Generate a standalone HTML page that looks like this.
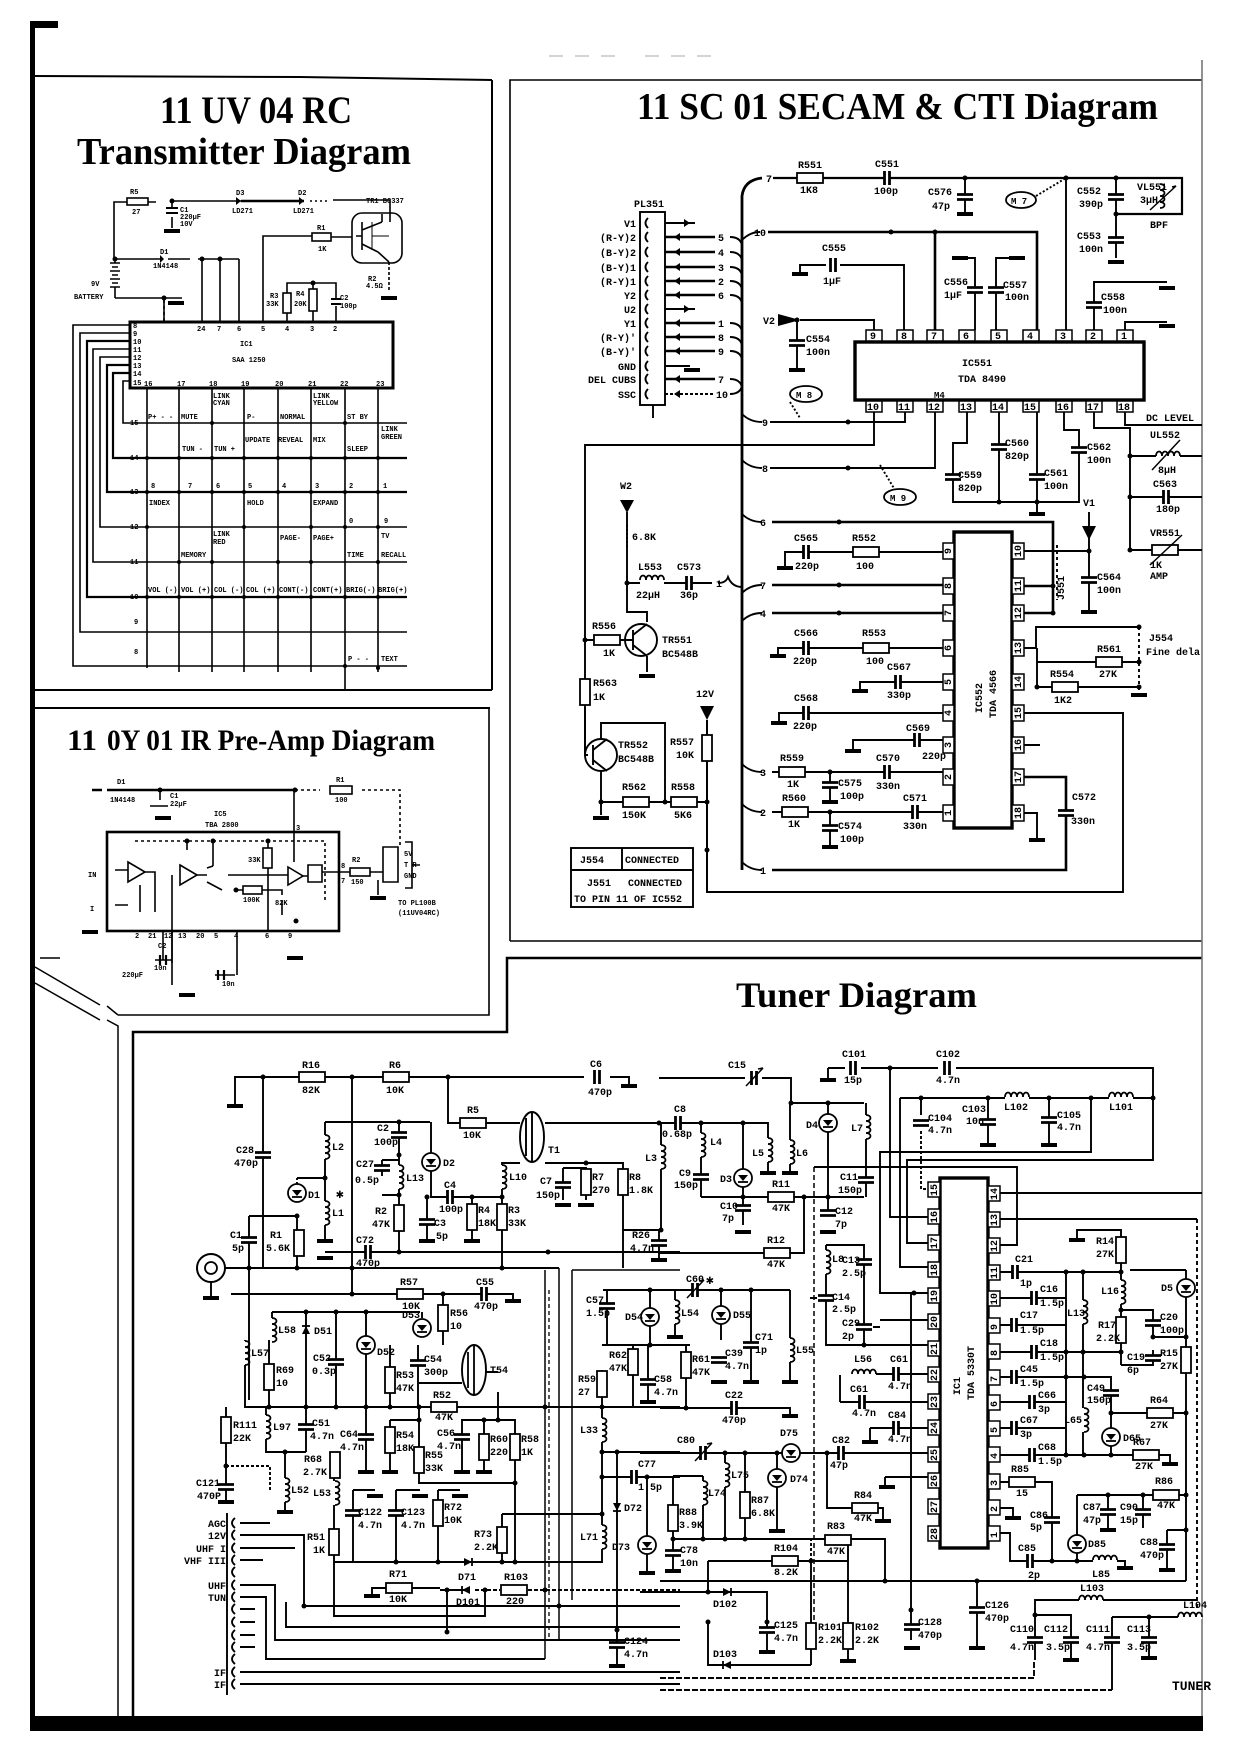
<!DOCTYPE html>
<html><head><meta charset="utf-8"><style>
html,body{margin:0;padding:0;background:#fff}
svg{display:block}
.l{font-family:"Liberation Mono","DejaVu Sans Mono",monospace;font-size:10px;font-weight:bold;fill:#000}
.s{font-family:"Liberation Mono","DejaVu Sans Mono",monospace;font-size:7px;font-weight:bold;fill:#000}
.h{font-family:"Liberation Serif",serif;font-weight:bold;fill:#000}
</style></head><body>
<svg width="1240" height="1754" viewBox="0 0 1240 1754" xmlns="http://www.w3.org/2000/svg">
<defs>
<g id="rh"><rect x="-13" y="-5" width="26" height="10" fill="#fff" stroke="#000" stroke-width="1.8"/></g>
<g id="rv"><rect x="-5" y="-13" width="10" height="26" fill="#fff" stroke="#000" stroke-width="1.8"/></g>
<g id="ch"><rect x="-3" y="-8" width="6" height="16" fill="#fff"/><path d="M-2.5,-7V7M2.5,-7V7" stroke="#000" stroke-width="2.8"/></g>
<g id="cv"><rect x="-9" y="-3" width="18" height="6" fill="#fff"/><path d="M-8,-2.5H8M-8,2.5H8" stroke="#000" stroke-width="2.8"/></g>
<g id="gnd"><rect x="-8" y="-2" width="16" height="4" fill="#000"/></g>
<g id="dot"><circle r="2.5" fill="#000"/></g>
<g id="lv"><rect x="-2" y="-12" width="4" height="24" fill="#fff"/><path d="M0,-12c6,0 6,6 0,6c6,0 6,6 0,6c6,0 6,6 0,6c6,0 6,6 0,6" fill="none" stroke="#000" stroke-width="1.8"/></g>
<g id="lh"><rect x="-12" y="-2" width="24" height="4" fill="#fff"/><path d="M-12,0c0,-6 6,-6 6,0c0,-6 6,-6 6,0c0,-6 6,-6 6,0c0,-6 6,-6 6,0" fill="none" stroke="#000" stroke-width="1.8"/></g>
<g id="dio"><circle r="9" fill="#fff" stroke="#000" stroke-width="1.8"/><path d="M-5,-3H5L0,3Z" fill="#000"/><path d="M-5,4H5" stroke="#000" stroke-width="1.8"/></g>
<g id="dsm"><path d="M-4,-4V4L4,0Z" fill="#000"/><path d="M4,-4V4" stroke="#000" stroke-width="1.8"/></g>
<g id="vc"><rect x="-3" y="-8" width="6" height="16" fill="#fff"/><path d="M-2.5,-7V7M2.5,-7V7" stroke="#000" stroke-width="2.8"/><path d="M-8,8L9,-10M9,-10l-5,1" stroke="#000" stroke-width="1.5" fill="none"/></g>
</defs>
<rect width="1240" height="1754" fill="#fff"/>

<!-- ================= FRAMES ================= -->
<g stroke="#000" fill="none">
<rect x="30" y="21" width="28" height="7" fill="#000" stroke="none"/>
<rect x="30" y="21" width="5" height="1710" fill="#000" stroke="none"/>
<path d="M33,76 L300,77 L492,80" stroke-width="2"/>
<path d="M492,80 V690" stroke-width="2"/>
<path d="M35,690 H492" stroke-width="2"/>
<path d="M35,708 H490" stroke-width="2"/>
<path d="M489,708 V1015 H118" stroke-width="1.6"/>
<path d="M35,967 L100,1005 M107,1006 L118,1015" stroke-width="1.5"/>
<path d="M35,983 L100,1020 M107,1020 L118,1026 V1716" stroke-width="1.5"/>
<path d="M133,1716 V1032 H507 V958 H1202" stroke-width="2.5"/>
<path d="M510,941 V80 H1202" stroke-width="1.6"/>
<path d="M510,941 H1202" stroke-width="1.6"/>
<path d="M1202,60 V1731" stroke="#777" stroke-width="1.6"/>
<path d="M549,56h14m12,0h14m12,0h14m30,0h14m12,0h14m12,0h14" stroke="#bbb" stroke-width="1.3"/>
</g>
<rect x="30" y="1716" width="1173" height="15" fill="#000"/>

<!-- ================= TITLES ================= -->
<text class="h" x="160" y="123" font-size="39" textLength="192" lengthAdjust="spacingAndGlyphs">11 UV 04 RC</text>
<text class="h" x="77" y="164" font-size="38" textLength="334" lengthAdjust="spacingAndGlyphs">Transmitter Diagram</text>
<text class="h" x="637" y="119" font-size="38" textLength="521" lengthAdjust="spacingAndGlyphs">11 SC 01 SECAM &amp; CTI Diagram</text>
<text class="h" x="67" y="750" font-size="30" textLength="30" lengthAdjust="spacingAndGlyphs">11</text>
<text class="h" x="107" y="750" font-size="30" textLength="328" lengthAdjust="spacingAndGlyphs">0Y 01 IR Pre-Amp Diagram</text>
<text class="h" x="736" y="1007" font-size="36" textLength="241" lengthAdjust="spacingAndGlyphs">Tuner Diagram</text>

<!-- ================= TRANSMITTER ================= -->
<g stroke="#000" stroke-width="1.6" fill="none">
<path d="M114,258 V202 H127 M148,202 H156"/>
<path d="M172,201 H241"/>
<path d="M241,201 H304" stroke-width="2.6"/>
<path d="M310,201 H330" stroke-dasharray="2 3"/>
<path d="M333,200 H390 V222"/>
<path d="M172,201 V208 M172,217 V228"/>
<path d="M263,322 V236 H312 M331,237 H352"/>
<rect x="312" y="233" width="19" height="8" fill="#fff"/>
<rect x="127" y="198" width="21" height="7" fill="#fff"/>
<rect x="352" y="213" width="50" height="50" rx="10"/>
<path d="M362,222V250M356,236H362M362,230L382,222M362,244L378,252M382,222V214M378,252L389,262" />
<path d="M372,222V250M372,236H389" stroke-width="1"/>
<path d="M389,262 V292" stroke-dasharray="3 2"/>
<path d="M110,263H120M112,267H118M110,271H120M112,275H118M110,279H120M112,283H118M110,287H120" stroke-width="1.6"/>
<path d="M115,258V263M115,287V298"/>
<path d="M115,259 H160 M168,259 H190" />
<path d="M198,259 H239 M202,259 V322 M220,259 V322 M239,259 V322"/>
<path d="M115,298 H182 M164,298 V322" />
<path d="M164,300 V322" stroke-dasharray="3 3"/>
<path d="M287,322 V283 H336 V298 M336,306 V322 M313,283 V322"/>
<rect x="283" y="293" width="8" height="20" fill="#fff"/>
<rect x="309" y="289" width="8" height="22" fill="#fff"/>
<path d="M331,299H341M331,304H341" stroke-width="2"/>
<rect x="130" y="322" width="263" height="66" stroke-width="3"/>
<path d="M130,325H73V666H407"/>
<path d="M130,333H80V632H407"/>
<path d="M130,341H87V597H407" stroke-width="2.2"/>
<path d="M130,349H93V562H407"/>
<path d="M130,357H100V527H407"/>
<path d="M130,365H107V492H407" stroke-width="2.2"/>
<path d="M130,373H113V458H407" stroke-width="2.2"/>
<path d="M130,381H123V423H407"/>
<path d="M147,389V668 M179,389V672 M212,389V672 M244,389V672 M278,389V672 M311,389V672 M345,389V690 M378,389V672"/>
</g>
<path d="M164,259l-4,-4v8z" fill="#000"/>
<path d="M241,201l-5,-4v8z M304,201l-5,-4v8z" fill="#000"/>
<use href="#gnd" x="172" y="231"/>
<use href="#gnd" x="176" y="303"/>
<use href="#gnd" x="389" y="298"/>
<path d="M166,208H178M166,213H178" stroke="#000" stroke-width="2"/>
<g>
<use href="#dot" x="172" y="201"/><use href="#dot" x="164" y="298"/><use href="#dot" x="202" y="259"/><use href="#dot" x="220" y="259"/><use href="#dot" x="313" y="283"/><use href="#dot" x="115" y="259"/>
</g>
<g fill="#000">
<circle cx="147" cy="458" r="2"/><circle cx="179" cy="458" r="2"/><circle cx="212" cy="458" r="2"/><circle cx="244" cy="458" r="2"/><circle cx="278" cy="458" r="2"/><circle cx="311" cy="458" r="2"/><circle cx="345" cy="458" r="2"/><circle cx="378" cy="458" r="2"/>
<circle cx="147" cy="492" r="2"/><circle cx="179" cy="492" r="2"/><circle cx="212" cy="492" r="2"/><circle cx="244" cy="492" r="2"/><circle cx="278" cy="492" r="2"/><circle cx="311" cy="492" r="2"/><circle cx="345" cy="492" r="2"/><circle cx="378" cy="492" r="2"/>
<circle cx="147" cy="527" r="2"/><circle cx="244" cy="527" r="2"/><circle cx="311" cy="527" r="2"/><circle cx="345" cy="527" r="2"/><circle cx="378" cy="527" r="2"/>
<circle cx="179" cy="562" r="2"/><circle cx="212" cy="562" r="2"/><circle cx="278" cy="562" r="2"/><circle cx="311" cy="562" r="2"/><circle cx="378" cy="562" r="2"/>
<circle cx="147" cy="597" r="2"/><circle cx="179" cy="597" r="2"/><circle cx="212" cy="597" r="2"/><circle cx="244" cy="597" r="2"/><circle cx="278" cy="597" r="2"/><circle cx="311" cy="597" r="2"/><circle cx="345" cy="597" r="2"/><circle cx="378" cy="597" r="2"/>
<circle cx="212" cy="423" r="2"/><circle cx="345" cy="423" r="2"/><circle cx="345" cy="666" r="2"/><circle cx="378" cy="668" r="2"/>
</g>
<g class="s">
<text x="130" y="194">R5</text><text x="132" y="214">27</text>
<text x="236" y="195">D3</text><text x="232" y="213">LD271</text>
<text x="298" y="195">D2</text><text x="293" y="213">LD271</text>
<text x="366" y="203">TR1 BC337</text>
<text x="180" y="212">C1</text><text x="180" y="219">220µF</text><text x="180" y="226">10V</text>
<text x="317" y="230">R1</text><text x="318" y="251">1K</text>
<text x="160" y="254">D1</text><text x="153" y="268">1N4148</text>
<text x="91" y="286">9V</text><text x="74" y="299">BATTERY</text>
<text x="368" y="281">R2</text><text x="366" y="288">4.5Ω</text>
<text x="270" y="298">R3</text><text x="266" y="306">33K</text>
<text x="296" y="296">R4</text><text x="294" y="306">20K</text>
<text x="340" y="300">C2</text><text x="340" y="308">100p</text>
<text x="197" y="331">24</text><text x="217" y="331">7</text><text x="237" y="331">6</text><text x="261" y="331">5</text><text x="285" y="331">4</text><text x="310" y="331">3</text><text x="333" y="331">2</text>
<text x="133" y="328">8</text><text x="133" y="336">9</text><text x="133" y="344">10</text><text x="133" y="352">11</text><text x="133" y="360">12</text><text x="133" y="368">13</text><text x="133" y="376">14</text><text x="133" y="385">15</text>
<text x="144" y="386">16</text><text x="177" y="386">17</text><text x="209" y="386">18</text><text x="241" y="386">19</text><text x="275" y="386">20</text><text x="308" y="386">21</text><text x="340" y="386">22</text><text x="376" y="386">23</text>
<text x="130" y="425">15</text><text x="130" y="460">14</text><text x="130" y="494">13</text><text x="130" y="529">12</text><text x="130" y="564">11</text><text x="130" y="599">10</text><text x="134" y="624">9</text><text x="134" y="654">8</text>
<text x="213" y="398">LINK</text><text x="213" y="405">CYAN</text><text x="313" y="398">LINK</text><text x="313" y="405">YELLOW</text>
<text x="148" y="419">P+ - -</text><text x="181" y="419">MUTE</text><text x="247" y="419">P-</text><text x="280" y="419">NORMAL</text><text x="347" y="419">ST BY</text>
<text x="381" y="431">LINK</text><text x="381" y="439">GREEN</text>
<text x="245" y="442">UPDATE</text><text x="278" y="442">REVEAL</text><text x="313" y="442">MIX</text>
<text x="182" y="451">TUN -</text><text x="214" y="451">TUN +</text><text x="347" y="451">SLEEP</text>
<text x="151" y="488">8</text><text x="188" y="488">7</text><text x="216" y="488">6</text><text x="248" y="488">5</text><text x="282" y="488">4</text><text x="315" y="488">3</text><text x="349" y="488">2</text><text x="383" y="488">1</text>
<text x="149" y="505">INDEX</text><text x="247" y="505">HOLD</text><text x="313" y="505">EXPAND</text>
<text x="349" y="523">0</text><text x="384" y="523">9</text>
<text x="213" y="536">LINK</text><text x="213" y="544">RED</text><text x="280" y="540">PAGE-</text><text x="313" y="540">PAGE+</text><text x="381" y="538">TV</text>
<text x="181" y="557">MEMORY</text><text x="347" y="557">TIME</text><text x="381" y="557">RECALL</text>
<text x="148" y="592">VOL (-)</text><text x="181" y="592">VOL (+)</text><text x="214" y="592">COL (-)</text><text x="246" y="592">COL (+)</text><text x="279" y="592">CONT(-)</text><text x="313" y="592">CONT(+)</text><text x="346" y="592">BRIG(-)</text><text x="378" y="592">BRIG(+)</text>
<text x="348" y="661">P - -</text><text x="381" y="661">TEXT</text>
</g>
<text class="s" x="240" y="346" font-size="9">IC1</text>
<text class="s" x="232" y="362" font-size="9">SAA 1250</text>

<!-- ================= IR PRE-AMP ================= -->
<g stroke="#000" stroke-width="1.6" fill="none">
<path d="M92,790 H102 M107,790 H295" stroke-width="2.4"/>
<path d="M295,790 H320 M362,790 H400 V847" stroke-dasharray="3 3"/>
<rect x="330" y="786" width="22" height="8" fill="#fff"/>
<path d="M160,790 V800 M150,806 H168 M294,790 V862"/>
<rect x="107" y="832" width="232" height="99" stroke-width="2.6"/>
<path d="M135,841 H325 V900" stroke-dasharray="3 3"/>
<path d="M187,841 V850 M213,841 V866 M268,841 V848 M268,868 V931"/>
<path d="M128,862 L145,872 L128,882 Z M180,865 L197,875 L180,885 Z M288,867 L303,876 L288,885 Z"/>
<path d="M115,870 H128 M145,872 H155 V912 M115,905 H128 M140,885 V912 M197,875 H207 M172,875 V963 M207,868 L213,866 M207,882 L222,890"/>
<rect x="263" y="848" width="9" height="20" fill="#fff"/>
<path d="M236,890 H243 M262,890 H282 V895 M282,900 V915"/>
<rect x="243" y="886" width="19" height="8" fill="#fff"/>
<path d="M228,875 H288 M303,876 H308 M308,865 H322 V882 H308 Z M322,872 H350 M370,872 H383"/>
<rect x="350" y="868" width="20" height="8" fill="#fff"/>
<path d="M383,847 H398 V882 H383 Z M405,842 H412 V888 H405 M412,865 H420"/>
<path d="M378,880 V895"/>
<path d="M163,931 V960 M172,931 V985 M237,931 V975"/>
<path d="M155,960 H172 M215,975 H235"/>
<path d="M160,955V965M166,955V965M218,970V980M224,970V980" stroke-width="2.2"/>
<path d="M40,958 H60"/>
</g>
<use href="#gnd" x="163" y="818"/><use href="#gnd" x="378" y="898"/><use href="#gnd" x="187" y="995"/><use href="#gnd" x="295" y="958"/><use href="#gnd" x="90" y="932"/>
<use href="#dot" x="160" y="790"/><use href="#dot" x="295" y="790"/><use href="#dot" x="187" y="841"/><use href="#dot" x="213" y="841"/><use href="#dot" x="268" y="841"/><use href="#dot" x="236" y="890"/><use href="#dot" x="296" y="921"/>
<g class="s">
<text x="117" y="784">D1</text><text x="110" y="802">1N4148</text><text x="170" y="798">C1</text><text x="170" y="806">22µF</text>
<text x="336" y="782">R1</text><text x="335" y="802">100</text>
<text x="214" y="816">IC5</text><text x="205" y="827">TBA 2800</text>
<text x="296" y="830">3</text><text x="248" y="862">33K</text><text x="243" y="902">100K</text><text x="275" y="905">82K</text>
<text x="352" y="862">R2</text><text x="351" y="884">150</text><text x="341" y="868">8</text><text x="341" y="883">7</text>
<text x="404" y="856">5V</text><text x="404" y="867">T R</text><text x="404" y="878">GND</text>
<text x="88" y="877">IN</text><text x="90" y="911">I</text>
<text x="135" y="938">2</text><text x="148" y="938">21</text><text x="164" y="938">12</text><text x="178" y="938">13</text><text x="196" y="938">20</text><text x="214" y="938">5</text><text x="234" y="938">4</text><text x="265" y="938">6</text><text x="288" y="938">9</text>
<text x="158" y="948">C2</text><text x="154" y="970">10n</text><text x="222" y="986">10n</text>
<text x="122" y="977">220µF</text>
<text x="398" y="905">TO PL100B</text><text x="398" y="915">(11UV04RC)</text>
</g>

<!-- ================= SECAM ================= -->
<g stroke="#000" stroke-width="1.9" fill="none">
<path d="M742,870 V196 Q744,180 762,178" stroke-width="2.8"/>
<path d="M773,178 H1182 V214 H1116" stroke-width="2.2"/>
<path d="M965,178 V212 M1066,178 V330 M1116,178 V258"/>
<path d="M1036,196 L1066,178" stroke-dasharray="2 2"/>
<rect x="640" y="212" width="25" height="193"/>
<path d="M665,223H695M665,309H695M665,366H690" />
<path d="M665,237H715M665,252H715M665,267H715M665,281H715M665,295H715M665,323H715M665,337H715M665,351H715M665,379H715" stroke-width="2.6"/>
<path d="M665,394H715" stroke-dasharray="3 2"/>
<path d="M648,218q-5,5 0,10M648,232q-5,5 0,10M648,247q-5,5 0,10M648,262q-5,5 0,10M648,276q-5,5 0,10M648,290q-5,5 0,10M648,304q-5,5 0,10M648,318q-5,5 0,10M648,332q-5,5 0,10M648,346q-5,5 0,10M648,361q-5,5 0,10M648,374q-5,5 0,10M648,389q-5,5 0,10"/>
<path d="M730,237q10,0 12,8M730,252q10,0 12,8M730,267q10,0 12,8M730,281q10,0 12,8M730,295q10,0 12,8M730,323q10,0 12,8M730,337q10,0 12,8M730,351q10,0 12,8M730,379q10,0 12,8M730,394q10,0 12,-8"/>
<path d="M653,405 V418"/>
<path d="M768,232 H1037 V330 M935,232 V330" stroke-width="2.6"/>
<path d="M760,232 q-10,0 -18,8"/>
<path d="M800,272 V265 H826 M840,265 H904 V330"/>
<path d="M960,258 H975 V330 M1017,258 H996 V330"/>
<path d="M1094,330 V282 H1167 M1125,330 V322 H1167"/>
<path d="M800,320 H874 V330 M797,320 V368"/>
<rect x="855" y="342" width="289" height="58" stroke-width="3.4"/>
<path d="M874,412V445H585V755 M905,412V422H770 M935,412V468H770 M967,412V443H953V502H1079V430H1064V412 M999,412V502 M1037,412V513 M1094,412V428H1130V550 M1125,412V425H1202 M1130,456H1202 M1130,497H1202 M1130,550H1202"/>
<path d="M762,422 q-12,0 -20,-8 M762,468 q-12,0 -20,-8"/>
<path d="M790,402 L800,418 M880,465 L895,490" stroke-dasharray="2 2"/>
<rect x="954" y="532" width="58" height="296" stroke-width="3.4"/>
<path d="M772,522 H1053 V613 M1024,586 H1053 M1024,613 H1053" stroke-width="2.6"/>
<path d="M762,522 q-12,0 -20,-8"/>
<path d="M1024,551 H1089 V610 M1089,512 V551"/>
<path d="M785,567 V552 H943" />
<path d="M772,585 H943 M772,613 H943" stroke-width="2.6"/>
<path d="M778,655 V648 H943 M860,690 V682 H943 M779,722 V713 H943 M853,750 V740 H943"/>
<path d="M772,772 H943 M772,812 H943 M830,772 V800 M830,812 V845"/>
<path d="M772,870 H1066 V777 H1024" stroke-width="2.6"/>
<path d="M762,585 q-12,0 -20,8 M762,613 q-12,0 -20,8 M762,772 q-12,0 -20,-8 M762,812 q-12,0 -20,-8 M762,870 q-12,0 -20,-8"/>
<path d="M1024,813 H1037 V838 M1024,745 H1040"/>
<path d="M1024,713 H1123 V892 H707 V720"/>
<path d="M1024,648 H1036 V627 H1139 M1037,648 V687 H1139 M1037,662 H1139"/>
<path d="M1139,627 V690" stroke-dasharray="3 3"/>
<path d="M1057,545 V600" stroke-dasharray="3 3"/>
<path d="M627,512 V583 H640 M664,583 H712 M627,583 V612 H647 V622"/>
<path d="M627,525 V548" stroke-dasharray="2 2" />
<path d="M585,640 H594 M620,640 H633 M647,656 V672"/>
<path d="M585,707 V755 H588 M601,739 V723 H665 V802 M601,771 V802 H707 V720 M601,802 V815"/>
<path d="M707,802 V892"/>
<path d="M718,583 q8,0 10,-6 q4,10 14,10" />
<circle cx="641" cy="640" r="16"/>
<circle cx="601" cy="755" r="16"/>
<path d="M633,630V650M633,635L647,624M633,645L647,656M593,745V765M593,750L607,739M593,760L607,771"/>
<rect x="571" y="848" width="122" height="59"/>
<path d="M571,870 H693 M622,848 V870"/>
</g>
<g>
<path d="M778,314 L800,320 L778,326 Z" fill="#000"/>
<path d="M620,500 L634,500 L627,513 Z" fill="#000"/>
<path d="M1082,526 L1096,526 L1089,540 Z" fill="#000"/>
<path d="M700,706 L714,706 L707,720 Z" fill="#000"/>
<use href="#rh" x="810" y="178"/><use href="#ch" x="887" y="178"/><use href="#cv" x="965" y="197"/><use href="#gnd" x="965" y="214"/>
<ellipse cx="1021" cy="200" rx="15" ry="8" fill="#fff" stroke="#000" stroke-width="1.8"/>
<ellipse cx="806" cy="394" rx="16" ry="8" fill="#fff" stroke="#000" stroke-width="1.8"/>
<ellipse cx="900" cy="497" rx="16" ry="8" fill="#fff" stroke="#000" stroke-width="1.8"/>
<use href="#cv" x="1116" y="197"/><use href="#cv" x="1116" y="240"/><use href="#gnd" x="1116" y="262"/>
<use href="#lv" x="1160" y="196"/>
<path d="M1150,210 L1176,186 l-4,1" stroke="#000" stroke-width="1.5" fill="none"/>
<use href="#dot" x="965" y="178"/><use href="#dot" x="1066" y="178"/><use href="#dot" x="1116" y="178"/><use href="#dot" x="1116" y="214"/>
<use href="#ch" x="833" y="265"/><use href="#gnd" x="800" y="274"/>
<use href="#cv" x="975" y="290"/><use href="#gnd" x="960" y="258"/>
<use href="#cv" x="996" y="290"/><use href="#gnd" x="1017" y="258"/>
<use href="#cv" x="1094" y="305"/><use href="#gnd" x="1167" y="288"/><use href="#gnd" x="1167" y="326"/>
<use href="#cv" x="797" y="343"/><use href="#gnd" x="797" y="370"/><use href="#dot" x="797" y="320"/>
<use href="#dot" x="891" y="232"/><use href="#dot" x="935" y="232"/>
<use href="#cv" x="953" y="477"/><use href="#cv" x="999" y="447"/><use href="#cv" x="1037" y="477"/><use href="#cv" x="1079" y="450"/>
<use href="#gnd" x="1037" y="514"/><use href="#dot" x="999" y="502"/><use href="#dot" x="1037" y="502"/>
<use href="#dot" x="1130" y="456"/><use href="#dot" x="1130" y="497"/><use href="#dot" x="1130" y="550"/>
<use href="#lh" x="1168" y="456"/><use href="#ch" x="1166" y="497"/><use href="#rh" x="1165" y="550"/>
<path d="M1152,470 L1180,440 M1150,565 L1182,535" stroke="#000" stroke-width="1.5"/>
<use href="#dot" x="848" y="422"/><use href="#dot" x="848" y="468"/>
<use href="#ch" x="806" y="552"/><use href="#rh" x="866" y="552"/><use href="#gnd" x="785" y="568"/>
<use href="#dot" x="839" y="585"/><use href="#dot" x="839" y="613"/><use href="#dot" x="839" y="522"/>
<use href="#dot" x="1089" y="551"/><use href="#cv" x="1089" y="580"/><use href="#gnd" x="1089" y="612"/>
<use href="#dot" x="1053" y="586"/><use href="#dot" x="1053" y="613"/>
<use href="#ch" x="806" y="648"/><use href="#rh" x="876" y="648"/><use href="#gnd" x="778" y="656"/>
<use href="#ch" x="898" y="682"/><use href="#gnd" x="860" y="691"/>
<use href="#ch" x="806" y="713"/><use href="#gnd" x="779" y="723"/>
<use href="#ch" x="917" y="740"/><use href="#gnd" x="853" y="751"/>
<use href="#rh" x="792" y="772"/><use href="#dot" x="830" y="772"/><use href="#cv" x="830" y="785"/><use href="#gnd" x="830" y="802"/><use href="#ch" x="887" y="772"/>
<use href="#rh" x="795" y="812"/><use href="#dot" x="830" y="812"/><use href="#cv" x="830" y="828"/><use href="#gnd" x="830" y="847"/><use href="#ch" x="915" y="812"/>
<use href="#cv" x="1066" y="813"/><use href="#gnd" x="1037" y="840"/>
<use href="#rh" x="1109" y="662"/><use href="#rh" x="1065" y="687"/><use href="#dot" x="1139" y="662"/><use href="#dot" x="1139" y="627"/><use href="#dot" x="1139" y="687"/><use href="#gnd" x="1139" y="695"/><use href="#dot" x="1037" y="687"/>
<use href="#dot" x="627" y="583"/><use href="#lh" x="652" y="580"/><use href="#ch" x="689" y="583"/>
<use href="#rh" x="607" y="640"/><use href="#dot" x="585" y="640"/><use href="#gnd" x="647" y="676"/>
<use href="#rv" x="585" y="692"/>
<use href="#rh" x="636" y="802"/><use href="#rh" x="684" y="802"/><use href="#dot" x="601" y="802"/><use href="#dot" x="665" y="802"/><use href="#dot" x="707" y="802"/><use href="#gnd" x="601" y="818"/>
<use href="#rv" x="707" y="748"/><use href="#dot" x="707" y="850"/>
<g stroke="#000" stroke-width="1.5" fill="#fff">
<rect x="866" y="330" width="16" height="11"/><rect x="897" y="330" width="16" height="11"/><rect x="927" y="330" width="16" height="11"/><rect x="959" y="330" width="16" height="11"/><rect x="991" y="330" width="16" height="11"/><rect x="1023" y="330" width="16" height="11"/><rect x="1056" y="330" width="16" height="11"/><rect x="1086" y="330" width="16" height="11"/><rect x="1117" y="330" width="16" height="11"/>
<rect x="866" y="401" width="16" height="11"/><rect x="897" y="401" width="16" height="11"/><rect x="927" y="401" width="16" height="11"/><rect x="959" y="401" width="16" height="11"/><rect x="991" y="401" width="16" height="11"/><rect x="1023" y="401" width="16" height="11"/><rect x="1056" y="401" width="16" height="11"/><rect x="1086" y="401" width="16" height="11"/><rect x="1117" y="401" width="16" height="11"/>
<rect x="943" y="543" width="11" height="16"/><rect x="943" y="578" width="11" height="16"/><rect x="943" y="605" width="11" height="16"/><rect x="943" y="640" width="11" height="16"/><rect x="943" y="674" width="11" height="16"/><rect x="943" y="705" width="11" height="16"/><rect x="943" y="737" width="11" height="16"/><rect x="943" y="769" width="11" height="16"/><rect x="943" y="805" width="11" height="16"/>
<rect x="1012" y="543" width="12" height="16"/><rect x="1012" y="578" width="12" height="16"/><rect x="1012" y="605" width="12" height="16"/><rect x="1012" y="640" width="12" height="16"/><rect x="1012" y="674" width="12" height="16"/><rect x="1012" y="705" width="12" height="16"/><rect x="1012" y="737" width="12" height="16"/><rect x="1012" y="769" width="12" height="16"/><rect x="1012" y="805" width="12" height="16"/>
</g>
</g>
<g class="l" font-size="9">
<text x="870" y="339">9</text><text x="901" y="339">8</text><text x="931" y="339">7</text><text x="963" y="339">6</text><text x="995" y="339">5</text><text x="1027" y="339">4</text><text x="1060" y="339">3</text><text x="1090" y="339">2</text><text x="1121" y="339">1</text>
<text x="867" y="410">10</text><text x="898" y="410">11</text><text x="928" y="410">12</text><text x="960" y="410">13</text><text x="992" y="410">14</text><text x="1024" y="410">15</text><text x="1057" y="410">16</text><text x="1087" y="410">17</text><text x="1118" y="410">18</text>
</g>
<g class="l">
<text x="798" y="168">R551</text><text x="800" y="193">1K8</text>
<text x="875" y="167">C551</text><text x="874" y="194">100p</text>
<text x="928" y="195">C576</text><text x="932" y="209">47p</text>
<text x="1011" y="204" font-size="9">M 7</text>
<text x="1077" y="194">C552</text><text x="1079" y="207">390p</text>
<text x="1077" y="239">C553</text><text x="1079" y="252">100n</text>
<text x="1137" y="190">VL551</text><text x="1140" y="203">3µH</text><text x="1150" y="228">BPF</text>
<text x="634" y="207">PL351</text>
<text x="766" y="182">7</text><text x="754" y="236">10</text>
<text x="822" y="251">C555</text><text x="823" y="284">1µF</text>
<text x="944" y="285">C556</text><text x="944" y="298">1µF</text>
<text x="1003" y="288">C557</text><text x="1005" y="300">100n</text>
<text x="1101" y="300">C558</text><text x="1103" y="313">100n</text>
<text x="763" y="324">V2</text><text x="806" y="342">C554</text><text x="806" y="355">100n</text>
<text x="962" y="366">IC551</text><text x="958" y="382">TDA 8490</text><text x="934" y="398" font-size="9">M4</text>
<text x="796" y="398" font-size="9">M 8</text><text x="890" y="501" font-size="9">M 9</text>
<text x="762" y="426">9</text><text x="762" y="472">8</text>
<text x="1146" y="421">DC LEVEL</text>
<text x="1150" y="438">UL552</text><text x="1158" y="473">8µH</text>
<text x="1153" y="487">C563</text><text x="1156" y="512">180p</text>
<text x="1150" y="536">VR551</text><text x="1150" y="568">1K</text><text x="1150" y="579">AMP</text>
<text x="958" y="478">C559</text><text x="958" y="491">820p</text>
<text x="1005" y="446">C560</text><text x="1005" y="459">820p</text>
<text x="1044" y="476">C561</text><text x="1044" y="489">100n</text>
<text x="1087" y="450">C562</text><text x="1087" y="463">100n</text>
<text x="620" y="489">W2</text>
<text x="1083" y="506">V1</text>
<text x="760" y="526">6</text><text x="760" y="589">7</text><text x="760" y="617">4</text><text x="760" y="776">3</text><text x="760" y="816">2</text><text x="760" y="874">1</text>
<text x="794" y="541">C565</text><text x="795" y="569">220p</text><text x="852" y="541">R552</text><text x="856" y="569">100</text>
<text x="1097" y="580">C564</text><text x="1097" y="593">100n</text>
<text x="638" y="570">L553</text><text x="636" y="598">22µH</text><text x="677" y="570">C573</text><text x="680" y="598">36p</text><text x="716" y="587">1</text>
<text x="632" y="540">6.8K</text>
<text x="592" y="629">R556</text><text x="603" y="656">1K</text>
<text x="662" y="643">TR551</text><text x="662" y="657">BC548B</text>
<text x="593" y="686">R563</text><text x="593" y="700">1K</text>
<text x="618" y="748">TR552</text><text x="618" y="762">BC548B</text>
<text x="696" y="697">12V</text>
<text x="670" y="745">R557</text><text x="676" y="758">10K</text>
<text x="622" y="790">R562</text><text x="622" y="818">150K</text><text x="671" y="790">R558</text><text x="674" y="818">5K6</text>
<text x="794" y="636">C566</text><text x="793" y="664">220p</text><text x="862" y="636">R553</text><text x="866" y="664">100</text>
<text x="887" y="670">C567</text><text x="887" y="698">330p</text>
<text x="794" y="701">C568</text><text x="793" y="729">220p</text>
<text x="906" y="731">C569</text><text x="922" y="759">220p</text>
<text x="780" y="761">R559</text><text x="787" y="787">1K</text><text x="838" y="786">C575</text><text x="840" y="799">100p</text><text x="876" y="761">C570</text><text x="876" y="789">330n</text>
<text x="782" y="801">R560</text><text x="788" y="827">1K</text><text x="838" y="829">C574</text><text x="840" y="842">100p</text><text x="903" y="801">C571</text><text x="903" y="829">330n</text>
<text x="1072" y="800">C572</text><text x="1071" y="824">330n</text>
<text x="1149" y="641">J554</text><text x="1146" y="655">Fine dela</text>
<text x="1097" y="652">R561</text><text x="1099" y="677">27K</text>
<text x="1050" y="677">R554</text><text x="1054" y="703">1K2</text>
<text x="580" y="863">J554</text><text x="625" y="863">CONNECTED</text>
<text x="587" y="886">J551</text><text x="628" y="886">CONNECTED</text>
<text x="574" y="902">TO PIN 11 OF IC552</text>
</g>
<g class="l" text-anchor="end">
<text x="636" y="227">V1</text><text x="636" y="241">(R-Y)2</text><text x="636" y="256">(B-Y)2</text><text x="636" y="271">(B-Y)1</text><text x="636" y="285">(R-Y)1</text><text x="636" y="299">Y2</text><text x="636" y="313">U2</text><text x="636" y="327">Y1</text><text x="636" y="341">(R-Y)'</text><text x="636" y="355">(B-Y)'</text><text x="636" y="370">GND</text><text x="636" y="383">DEL CUBS</text><text x="636" y="398">SSC</text>
</g>
<g class="l">
<text x="718" y="241">5</text><text x="718" y="256">4</text><text x="718" y="271">3</text><text x="718" y="285">2</text><text x="718" y="299">6</text><text x="718" y="327">1</text><text x="718" y="341">8</text><text x="718" y="355">9</text><text x="718" y="383">7</text><text x="716" y="398">10</text>
</g>
<use href="#gnd" x="692" y="370"/>
<g fill="#000">
<path d="M690,219l-6,4l6,4z" transform="rotate(180 687 223)"/>
<path d="M690,305l-6,4l6,4z" transform="rotate(180 687 309)"/>
<path d="M680,233l-6,4l6,4zM680,248l-6,4l6,4zM680,263l-6,4l6,4zM680,277l-6,4l6,4zM680,291l-6,4l6,4zM680,319l-6,4l6,4zM680,333l-6,4l6,4zM680,347l-6,4l6,4zM680,375l-6,4l6,4zM680,390l-6,4l6,4z"/>
</g>
<g class="l" font-size="8">
<text transform="translate(951,554) rotate(-90)">9</text><text transform="translate(951,589) rotate(-90)">8</text><text transform="translate(951,616) rotate(-90)">7</text><text transform="translate(951,651) rotate(-90)">6</text><text transform="translate(951,685) rotate(-90)">5</text><text transform="translate(951,716) rotate(-90)">4</text><text transform="translate(951,748) rotate(-90)">3</text><text transform="translate(951,780) rotate(-90)">2</text><text transform="translate(951,816) rotate(-90)">1</text>
<text transform="translate(1021,557) rotate(-90)">10</text><text transform="translate(1021,592) rotate(-90)">11</text><text transform="translate(1021,619) rotate(-90)">12</text><text transform="translate(1021,654) rotate(-90)">13</text><text transform="translate(1021,688) rotate(-90)">14</text><text transform="translate(1021,719) rotate(-90)">15</text><text transform="translate(1021,751) rotate(-90)">16</text><text transform="translate(1021,783) rotate(-90)">17</text><text transform="translate(1021,819) rotate(-90)">18</text>
</g>
<text class="l" font-size="11" transform="translate(982,713) rotate(-90)">IC552</text>
<text class="l" font-size="11" transform="translate(996,718) rotate(-90)">TDA 4566</text>
<text class="l" font-size="9" transform="translate(1064,600) rotate(-90)">J551</text>

<!-- ================= TUNER ================= -->
<g stroke="#000" stroke-width="1.9" fill="none">
<path d="M235,1105 V1077 H584 M610,1077 H629 V1085"/>
<path d="M263,1077 V1268 M352,1077 V1294 M448,1077 V1123 H460 M486,1123 H520"/>
<ellipse cx="532" cy="1137" rx="12" ry="25"/>
<path d="M532,1112 V1162 M526,1118 V1156" />
<path d="M545,1123 H668 M520,1163 H502 V1230 M545,1163 H623 V1230 M563,1168 H586 V1200 M563,1168 V1200 M623,1230 V1268"/>
<path d="M325,1122 H430 M325,1122 V1240 M297,1178 H325"/>
<path d="M297,1178 V1184" stroke-dasharray="2 2"/>
<path d="M249,1216 H297 V1268 M249,1216 V1400 M399,1122 V1252 M382,1160 V1176 M382,1195 H399 M382,1160 H399"/>
<path d="M431,1122 V1153 M431,1171 V1197 H502 M427,1197 V1240 M472,1197 V1240"/>
<path d="M263,1268 H559 M502,1230 V1268 M325,1252 H680"/>
<path d="M661,1123 V1230 M623,1230 H661 M659,1230 V1258"/>
<path d="M231,1294 H513 V1300"/>
<path d="M443,1294 V1345"/>
<path d="M272,1312 H420 M272,1312 V1340 M306,1312 V1452 M336,1312 V1407 M366,1312 V1336 M422,1312 V1318"/>
<path d="M245,1340 V1407 H680 M269,1340 V1407 M390,1345 V1407 M418,1345 V1407 M366,1354 V1407"/>
<path d="M419,1407 V1483 H515 V1420 H462 V1470 M484,1420 V1470 M498,1420 V1392 M390,1420 H419 M390,1420 V1470 M366,1407 V1470"/>
<path d="M266,1407 V1452 H306 M285,1452 V1510 M226,1407 V1500 M334,1452 V1562"/>
<path d="M226,1466 H270 V1490" stroke-dasharray="3 2"/>
<path d="M353,1490 V1562 M353,1490 H375 M396,1490 V1562 M396,1490 H420 M438,1490 H460 M438,1490 V1562"/>
<path d="M334,1562 H602 V1407 M502,1514 V1562 M502,1514 H602 M515,1483 V1562"/>
<path d="M602,1452 H680 M602,1477 H680 M617,1452 V1665 M647,1477 V1572"/>
<path d="M545,1270 V1659 M559,1268 V1640 M572,1270 V1600 M572,1270 H680" stroke-width="1.5"/>
<path d="M549,1290 V1640" stroke-dasharray="4 3" stroke-width="1.3"/>
<path d="M227,1513 V1695"/>
<path d="M235,1518q-6,5 0,10M235,1530q-6,5 0,10M235,1543q-6,5 0,10M235,1555q-6,5 0,10M235,1567q-6,5 0,10M235,1580q-6,5 0,10M235,1592q-6,5 0,10M235,1604q-6,5 0,10M235,1617q-6,5 0,10M235,1630q-6,5 0,10M235,1642q-6,5 0,10M235,1654q-6,5 0,10M235,1667q-6,5 0,10M235,1679q-6,5 0,10"/>
<path d="M240,1523 H270 M240,1535 H304 V1606 H680 M240,1548 H295 M240,1560 H263 M240,1585 H275 V1640 H680 M240,1597 H266 V1659 H545 M286,1602 V1627 H680"/>
<path d="M240,1609 H255 M240,1622 H255 M240,1635 H255 M240,1647 H255"/>
<path d="M240,1672 H680 M240,1684 H680"/>
<path d="M334,1562 V1616 H485 V1590 M440,1590 H466 M372,1595 V1588 H386 M412,1588 H440"/>
<path d="M475,1590 H500 M528,1590 H680" stroke-dasharray="4 2"/>
<path d="M447,1590 V1632" />
<path d="M603,1290 H790 M607,1290 V1345 M650,1290 V1308 M650,1326 V1345 M675,1290 V1335 M721,1290 V1306 M721,1324 V1340 M751,1290 V1380 M790,1290 V1380"/>
<path d="M602,1345 H690 M633,1345 V1407 M602,1370 V1407 M648,1345 V1400 M686,1345 V1408"/>
<path d="M660,1408 H790 V1415"/>
<path d="M640,1453 H927 M725,1453 V1539 M745,1453 V1539 M777,1453 V1469 M777,1487 V1530 M703,1476 V1539 M673,1476 V1570 M673,1476 H703"/>
<path d="M673,1539 H885 V1581 M827,1453 V1508 H852 M878,1508 H883 V1520"/>
<path d="M660,1581 H1186"/>
<path d="M708,1561 H772 M798,1561 H848 M708,1561 V1592 M640,1592 H767 V1650 M811,1561 V1665 M848,1540 V1660 M708,1622 V1665 H811"/>
<path d="M811,1561 V1540" stroke-dasharray="3 2"/>
<path d="M659,1078 H745 M762,1078 H791 V1103 H864 M828,1103 V1213 M866,1103 V1197 M790,1103 V1172"/>
<path d="M659,1123 H768 V1172 M701,1123 V1197 M743,1123 V1225 M701,1197 H768 M794,1197 H864 M804,1197 V1253 H790 M764,1253 H659"/>
<path d="M828,1068 H845 M861,1068 H938 M956,1068 H1153 V1160 H907 V1243 H928 M828,1068 V1078 M890,1068 V1217 H928"/>
<path d="M900,1098 H1153 M900,1098 V1267 H928 M921,1098 V1115 M988,1098 V1143 M1049,1098 V1143 M1091,1098 V1152 H880 V1293 H928"/>
<path d="M921,1131 V1189 H928" stroke-dasharray="3 2"/>
<path d="M814,1167 V1640" stroke-dasharray="5 3" stroke-width="1.5"/>
<path d="M814,1167 H1017 V1245 H1000"/>
<path d="M1000,1193 H1202 M1000,1219 H1197"/>
<path d="M1197,1219 V1610" stroke-dasharray="4 3"/>
<path d="M826,1245 H864 V1345 M826,1245 V1345 H928 M864,1327 H880 M826,1298 H810"/>
<path d="M880,1320 H928 M911,1293 V1640"/>
<path d="M840,1402 H928 M840,1402 V1375 M852,1374 H928 M870,1428 H928 M870,1428 V1440 M841,1453 H928 M885,1477 H928 M885,1477 V1485"/>
<path d="M1000,1272 H1121 M1066,1272 V1455 M1083,1272 V1455 M1000,1298 H1066 M1000,1325 H1066 M1000,1352 H1121"/>
<path d="M1077,1240 V1230 H1121 V1365 M1121,1310 H1153 V1337 H1186 M1121,1365 H1153 V1350"/>
<path d="M1186,1270 V1581 M1130,1270 H1186"/>
<path d="M1000,1377 H1111 V1455 M1000,1402 H1066 M1000,1428 H1066 M1000,1455 H1134 M1158,1455 H1170 V1462"/>
<path d="M1111,1413 H1147 M1173,1413 H1186"/>
<path d="M1000,1482 H1010 M1034,1482 H1052 V1561 M1000,1508 H1013 V1516"/>
<path d="M1000,1533 H1010 V1561 H1093 M1117,1561 H1125 V1566"/>
<path d="M1077,1495 V1561 M1077,1495 H1153 M1179,1495 H1186 M1108,1495 V1528 M1143,1495 V1528 M1167,1530 H1186 M1167,1530 V1568"/>
<path d="M977,1581 V1648"/>
<path d="M1035,1660 V1600 H1079 M1103,1600 H1197 M1035,1615 H1071 V1658 M1112,1617 H1178 M1112,1617 V1690 M1149,1617 V1656"/>
<path d="M660,1678 H1034 V1660 M660,1690 H1112" stroke-dasharray="6 2"/>
<rect x="940" y="1178" width="48" height="370" stroke-width="3.4"/>
</g>
<g>
<use href="#rh" x="312" y="1077"/><use href="#rh" x="396" y="1077"/><use href="#ch" x="597" y="1077"/><use href="#gnd" x="629" y="1086"/><use href="#gnd" x="235" y="1106"/>
<use href="#dot" x="263" y="1077"/><use href="#dot" x="352" y="1077"/><use href="#dot" x="448" y="1077"/>
<use href="#cv" x="263" y="1155"/><use href="#rh" x="473" y="1123"/>
<use href="#dot" x="659" y="1123"/><use href="#dot" x="586" y="1163"/>
<use href="#lv" x="502" y="1177"/><use href="#dot" x="502" y="1197"/><use href="#rv" x="502" y="1217"/>
<use href="#cv" x="563" y="1185"/><use href="#rv" x="586" y="1182"/><use href="#rv" x="623" y="1182"/><use href="#gnd" x="563" y="1205"/><use href="#gnd" x="586" y="1205"/>
<use href="#lv" x="661" y="1157"/><use href="#dot" x="661" y="1230"/><use href="#cv" x="659" y="1243"/><use href="#gnd" x="659" y="1260"/>
<use href="#lv" x="325" y="1147"/><use href="#dot" x="325" y="1178"/><use href="#lv" x="325" y="1213"/><use href="#gnd" x="325" y="1241"/><use href="#dio" x="297" y="1193"/>
<use href="#dot" x="297" y="1216"/><use href="#rv" x="299" y="1243"/><use href="#cv" x="249" y="1240"/>
<circle cx="211" cy="1268" r="14" fill="#fff" stroke="#000" stroke-width="2"/><circle cx="211" cy="1268" r="6" fill="#fff" stroke="#000" stroke-width="1.8"/>
<path d="M225,1268 H263 M211,1282 V1296" stroke="#000" stroke-width="1.9"/><use href="#gnd" x="211" y="1298"/>
<use href="#dot" x="249" y="1268"/><use href="#dot" x="297" y="1268"/><use href="#dot" x="352" y="1268"/><use href="#dot" x="502" y="1268"/>
<use href="#cv" x="399" y="1135"/><use href="#dot" x="399" y="1122"/><use href="#dot" x="399" y="1155"/><use href="#lv" x="399" y="1177"/><use href="#dot" x="399" y="1195"/><use href="#rv" x="399" y="1218"/><use href="#dot" x="399" y="1252"/>
<use href="#cv" x="382" y="1168"/>
<use href="#dio" x="431" y="1162"/><use href="#dot" x="427" y="1197"/><use href="#ch" x="450" y="1197"/><use href="#dot" x="472" y="1197"/>
<use href="#cv" x="427" y="1222"/><use href="#gnd" x="427" y="1241"/><use href="#rv" x="472" y="1217"/><use href="#gnd" x="472" y="1241"/>
<use href="#ch" x="368" y="1252"/><use href="#gnd" x="325" y="1258"/><use href="#dot" x="548" y="1252"/>
<use href="#rh" x="410" y="1294"/><use href="#dot" x="352" y="1294"/><use href="#dot" x="443" y="1294"/><use href="#ch" x="484" y="1294"/><use href="#gnd" x="513" y="1301"/>
<use href="#rv" x="443" y="1318"/>
<use href="#lv" x="272" y="1330"/><use href="#dsm" x="306" y="1330" transform="rotate(-90 306 1330)"/><use href="#dio" x="366" y="1345"/><use href="#dio" x="422" y="1328"/>
<use href="#dot" x="306" y="1312"/><use href="#dot" x="336" y="1312"/><use href="#dot" x="366" y="1312"/>
<use href="#lv" x="245" y="1353"/><use href="#rv" x="269" y="1377"/><use href="#cv" x="336" y="1362"/><use href="#cv" x="418" y="1363"/><use href="#rv" x="390" y="1380"/>
<ellipse cx="474" cy="1370" rx="12" ry="25" fill="#fff" stroke="#000" stroke-width="1.9"/><path d="M474,1345V1395M468,1352V1388" stroke="#000" stroke-width="1.8"/>
<path d="M419,1383 H462 M486,1372 H498" stroke="#000" stroke-width="1.9"/>
<use href="#rh" x="444" y="1407"/><use href="#dot" x="269" y="1407"/><use href="#dot" x="306" y="1407"/><use href="#dot" x="336" y="1407"/><use href="#dot" x="366" y="1407"/><use href="#dot" x="390" y="1407"/><use href="#dot" x="419" y="1407"/><use href="#dot" x="602" y="1407"/><use href="#dot" x="545" y="1407"/>
<use href="#rv" x="226" y="1430"/><use href="#dot" x="226" y="1466"/><use href="#cv" x="226" y="1487"/><use href="#gnd" x="226" y="1502"/>
<use href="#lv" x="266" y="1427"/><use href="#cv" x="306" y="1427"/><use href="#dot" x="285" y="1452"/><use href="#lv" x="285" y="1490"/><use href="#gnd" x="285" y="1512"/>
<use href="#cv" x="366" y="1437"/><use href="#gnd" x="366" y="1472"/><use href="#rv" x="390" y="1440"/><use href="#gnd" x="390" y="1472"/><use href="#rv" x="419" y="1460"/>
<use href="#cv" x="462" y="1437"/><use href="#rv" x="484" y="1447"/><use href="#rv" x="515" y="1447"/><use href="#gnd" x="462" y="1472"/><use href="#gnd" x="484" y="1472"/><use href="#dot" x="484" y="1420"/><use href="#dot" x="498" y="1420"/><use href="#dot" x="419" y="1420"/><use href="#dot" x="515" y="1483"/>
<use href="#rv" x="335" y="1465"/><use href="#lv" x="335" y="1493"/><use href="#rv" x="334" y="1542"/>
<use href="#cv" x="353" y="1513"/><use href="#gnd" x="375" y="1496"/><use href="#cv" x="396" y="1513"/><use href="#gnd" x="420" y="1496"/><use href="#rv" x="438" y="1513"/><use href="#gnd" x="460" y="1496"/>
<use href="#dsm" x="468" y="1562"/><use href="#dot" x="396" y="1562"/><use href="#dot" x="438" y="1562"/><use href="#dot" x="502" y="1562"/><use href="#dot" x="515" y="1562"/>
<use href="#rv" x="502" y="1540"/><use href="#dot" x="602" y="1514"/>
<use href="#lv" x="602" y="1430"/><use href="#lv" x="602" y="1537"/><use href="#dot" x="602" y="1452"/><use href="#dot" x="617" y="1452"/><use href="#dot" x="602" y="1477"/>
<use href="#dsm" x="617" y="1507" transform="rotate(90 617 1507)"/><use href="#ch" x="634" y="1477"/><use href="#dot" x="647" y="1477"/><use href="#dio" x="647" y="1545"/><use href="#gnd" x="647" y="1573"/>
<use href="#cv" x="617" y="1645"/><use href="#dot" x="617" y="1630"/><use href="#gnd" x="617" y="1666"/>
<use href="#rh" x="399" y="1588"/><use href="#gnd" x="372" y="1596"/><use href="#dsm" x="466" y="1590" transform="rotate(180 466 1590)"/><use href="#dot" x="447" y="1590"/><use href="#dot" x="485" y="1590"/><use href="#rh" x="514" y="1590"/>
<use href="#dot" x="447" y="1632"/><use href="#dot" x="545" y="1590"/><use href="#dot" x="559" y="1606"/><use href="#dot" x="304" y="1606"/>
<use href="#vc" x="695" y="1290"/><use href="#cv" x="607" y="1306"/><use href="#dio" x="650" y="1317"/><use href="#lv" x="675" y="1312"/><use href="#gnd" x="675" y="1337"/><use href="#dio" x="721" y="1315"/>
<use href="#cv" x="751" y="1345"/><use href="#gnd" x="751" y="1382"/><use href="#lv" x="790" y="1350"/><use href="#gnd" x="790" y="1382"/>
<use href="#dot" x="650" y="1290"/><use href="#dot" x="721" y="1290"/><use href="#dot" x="751" y="1290"/><use href="#dot" x="650" y="1345"/>
<use href="#rv" x="633" y="1362"/><use href="#rv" x="602" y="1384"/><use href="#cv" x="648" y="1382"/><use href="#gnd" x="648" y="1402"/><use href="#rv" x="686" y="1365"/><use href="#cv" x="719" y="1360"/><use href="#gnd" x="719" y="1382"/>
<use href="#dot" x="686" y="1408"/><use href="#ch" x="734" y="1408"/><use href="#gnd" x="790" y="1416"/>
<use href="#vc" x="703" y="1453"/><use href="#dot" x="725" y="1453"/><use href="#dot" x="745" y="1453"/><use href="#dot" x="777" y="1453"/><use href="#dio" x="791" y="1453"/><use href="#dot" x="827" y="1453"/><use href="#ch" x="841" y="1453"/>
<use href="#lv" x="725" y="1475"/><use href="#rv" x="745" y="1505"/><use href="#dio" x="777" y="1478"/><use href="#gnd" x="777" y="1531"/><use href="#lv" x="703" y="1493"/><use href="#rv" x="673" y="1518"/><use href="#cv" x="673" y="1553"/><use href="#gnd" x="673" y="1571"/>
<use href="#dot" x="673" y="1539"/><use href="#dot" x="703" y="1539"/><use href="#dot" x="725" y="1539"/><use href="#dot" x="745" y="1539"/>
<use href="#rh" x="838" y="1540"/><use href="#rh" x="865" y="1508"/><use href="#gnd" x="883" y="1521"/>
<use href="#rh" x="785" y="1561"/><use href="#dot" x="811" y="1561"/><use href="#dot" x="885" y="1581"/><use href="#dot" x="977" y="1581"/><use href="#dot" x="708" y="1592"/>
<use href="#dsm" x="727" y="1592"/><use href="#cv" x="767" y="1630"/><use href="#gnd" x="767" y="1652"/><use href="#dot" x="767" y="1622"/>
<use href="#rv" x="811" y="1636"/><use href="#rv" x="848" y="1636"/><use href="#gnd" x="848" y="1661"/><use href="#dsm" x="727" y="1665" transform="rotate(180 727 1665)"/><use href="#dot" x="708" y="1622"/>
<use href="#cv" x="912" y="1627"/><use href="#gnd" x="912" y="1648"/><use href="#dot" x="911" y="1610"/>
<use href="#cv" x="977" y="1610"/><use href="#gnd" x="977" y="1648"/>
<use href="#vc" x="754" y="1078"/><use href="#dot" x="791" y="1103"/><use href="#dot" x="828" y="1103"/>
<use href="#dio" x="828" y="1123"/><use href="#lv" x="866" y="1127"/><use href="#lv" x="790" y="1152"/><use href="#gnd" x="790" y="1173"/>
<use href="#ch" x="678" y="1123"/><use href="#dot" x="701" y="1123"/><use href="#dot" x="743" y="1123"/><use href="#lv" x="768" y="1150"/><use href="#gnd" x="768" y="1173"/>
<use href="#lv" x="701" y="1145"/><use href="#cv" x="701" y="1177"/><use href="#dio" x="743" y="1178"/><use href="#cv" x="743" y="1208"/><use href="#gnd" x="743" y="1232"/>
<use href="#rh" x="781" y="1197"/><use href="#dot" x="743" y="1197"/><use href="#dot" x="804" y="1197"/><use href="#dot" x="828" y="1197"/><use href="#cv" x="866" y="1180"/>
<use href="#cv" x="828" y="1213"/><use href="#gnd" x="828" y="1232"/><use href="#rh" x="777" y="1253"/>
<use href="#ch" x="853" y="1068"/><use href="#gnd" x="828" y="1080"/><use href="#dot" x="890" y="1068"/><use href="#ch" x="947" y="1068"/><use href="#dot" x="1153" y="1098"/>
<use href="#dot" x="921" y="1098"/><use href="#dot" x="988" y="1098"/><use href="#dot" x="1049" y="1098"/><use href="#dot" x="1091" y="1098"/>
<use href="#lh" x="1017" y="1097"/><use href="#lh" x="1121" y="1097"/><use href="#cv" x="921" y="1123"/><use href="#cv" x="988" y="1122"/><use href="#gnd" x="988" y="1145"/><use href="#cv" x="1049" y="1120"/><use href="#gnd" x="1049" y="1145"/>
<use href="#lv" x="826" y="1262"/><use href="#cv" x="864" y="1262"/><use href="#cv" x="826" y="1298"/><use href="#cv" x="864" y="1327"/><use href="#dot" x="864" y="1345"/><use href="#dot" x="914" y="1293"/>
<use href="#lh" x="864" y="1374"/><use href="#ch" x="896" y="1374"/><use href="#ch" x="862" y="1402"/><use href="#ch" x="896" y="1428"/><use href="#gnd" x="870" y="1442"/><use href="#gnd" x="887" y="1487"/>
<use href="#ch" x="1015" y="1272"/><use href="#dot" x="1066" y="1272"/><use href="#dot" x="1083" y="1272"/><use href="#dot" x="1121" y="1272"/>
<use href="#rv" x="1121" y="1250"/><use href="#gnd" x="1077" y="1240"/><use href="#lv" x="1083" y="1312"/>
<use href="#lv" x="1121" y="1292"/><use href="#dot" x="1121" y="1310"/><use href="#rv" x="1121" y="1330"/><use href="#dot" x="1121" y="1352"/>
<use href="#ch" x="1034" y="1298"/><use href="#ch" x="1014" y="1325"/><use href="#ch" x="1034" y="1352"/><use href="#dot" x="1066" y="1352"/><use href="#dot" x="1083" y="1352"/>
<use href="#cv" x="1153" y="1323"/><use href="#dot" x="1153" y="1337"/><use href="#cv" x="1153" y="1358"/><use href="#dot" x="1186" y="1337"/>
<use href="#dio" x="1186" y="1288"/><use href="#rv" x="1186" y="1360"/>
<use href="#ch" x="1014" y="1377"/><use href="#ch" x="1032" y="1402"/><use href="#ch" x="1014" y="1428"/><use href="#ch" x="1032" y="1455"/>
<use href="#dot" x="1066" y="1377"/><use href="#dot" x="1084" y="1377"/><use href="#dot" x="1066" y="1455"/><use href="#dot" x="1084" y="1455"/><use href="#dot" x="1111" y="1455"/>
<use href="#lv" x="1084" y="1420"/><use href="#cv" x="1111" y="1393"/><use href="#dot" x="1111" y="1413"/><use href="#dio" x="1111" y="1437"/>
<use href="#rh" x="1160" y="1413"/><use href="#dot" x="1186" y="1413"/><use href="#rh" x="1146" y="1455"/><use href="#gnd" x="1170" y="1464"/>
<use href="#rh" x="1022" y="1482"/><use href="#cv" x="1052" y="1520"/><use href="#gnd" x="1013" y="1518"/>
<use href="#ch" x="1030" y="1561"/><use href="#dot" x="1052" y="1561"/><use href="#dot" x="1077" y="1561"/><use href="#lh" x="1105" y="1560"/><use href="#gnd" x="1125" y="1568"/>
<use href="#dio" x="1077" y="1544"/><use href="#dot" x="1108" y="1495"/><use href="#dot" x="1143" y="1495"/><use href="#rh" x="1166" y="1495"/><use href="#dot" x="1186" y="1495"/>
<use href="#cv" x="1108" y="1512"/><use href="#gnd" x="1108" y="1530"/><use href="#cv" x="1143" y="1512"/><use href="#cv" x="1167" y="1547"/><use href="#gnd" x="1167" y="1570"/><use href="#dot" x="1186" y="1530"/>
<use href="#lh" x="1091" y="1600"/><use href="#lh" x="1190" y="1617"/><use href="#dot" x="1035" y="1615"/><use href="#dot" x="1149" y="1617"/>
<use href="#cv" x="1035" y="1640"/><use href="#cv" x="1071" y="1640"/><use href="#gnd" x="1071" y="1660"/><use href="#cv" x="1112" y="1640"/><use href="#cv" x="1149" y="1640"/><use href="#gnd" x="1149" y="1658"/>
<g stroke="#000" stroke-width="1.5" fill="#fff">
<rect x="928" y="1182" width="12" height="15"/><rect x="928" y="1209" width="12" height="15"/><rect x="928" y="1235" width="12" height="15"/><rect x="928" y="1262" width="12" height="15"/><rect x="928" y="1288" width="12" height="15"/><rect x="928" y="1314" width="12" height="15"/><rect x="928" y="1341" width="12" height="15"/><rect x="928" y="1367" width="12" height="15"/><rect x="928" y="1394" width="12" height="15"/><rect x="928" y="1420" width="12" height="15"/><rect x="928" y="1447" width="12" height="15"/><rect x="928" y="1473" width="12" height="15"/><rect x="928" y="1499" width="12" height="15"/><rect x="928" y="1526" width="12" height="15"/>
<rect x="988" y="1186" width="12" height="15"/><rect x="988" y="1212" width="12" height="15"/><rect x="988" y="1238" width="12" height="15"/><rect x="988" y="1265" width="12" height="15"/><rect x="988" y="1291" width="12" height="15"/><rect x="988" y="1318" width="12" height="15"/><rect x="988" y="1344" width="12" height="15"/><rect x="988" y="1370" width="12" height="15"/><rect x="988" y="1395" width="12" height="15"/><rect x="988" y="1421" width="12" height="15"/><rect x="988" y="1447" width="12" height="15"/><rect x="988" y="1474" width="12" height="15"/><rect x="988" y="1500" width="12" height="15"/><rect x="988" y="1526" width="12" height="15"/>
</g>
</g>
<g class="l" font-size="8">
<text transform="translate(937,1196) rotate(-90)">15</text><text transform="translate(937,1223) rotate(-90)">16</text><text transform="translate(937,1249) rotate(-90)">17</text><text transform="translate(937,1276) rotate(-90)">18</text><text transform="translate(937,1302) rotate(-90)">19</text><text transform="translate(937,1328) rotate(-90)">20</text><text transform="translate(937,1355) rotate(-90)">21</text><text transform="translate(937,1381) rotate(-90)">22</text><text transform="translate(937,1408) rotate(-90)">23</text><text transform="translate(937,1434) rotate(-90)">24</text><text transform="translate(937,1461) rotate(-90)">25</text><text transform="translate(937,1487) rotate(-90)">26</text><text transform="translate(937,1513) rotate(-90)">27</text><text transform="translate(937,1540) rotate(-90)">28</text>
<text transform="translate(997,1200) rotate(-90)">14</text><text transform="translate(997,1226) rotate(-90)">13</text><text transform="translate(997,1252) rotate(-90)">12</text><text transform="translate(997,1279) rotate(-90)">11</text><text transform="translate(997,1305) rotate(-90)">10</text><text transform="translate(997,1330) rotate(-90)">9</text><text transform="translate(997,1356) rotate(-90)">8</text><text transform="translate(997,1382) rotate(-90)">7</text><text transform="translate(997,1407) rotate(-90)">6</text><text transform="translate(997,1433) rotate(-90)">5</text><text transform="translate(997,1459) rotate(-90)">4</text><text transform="translate(997,1486) rotate(-90)">3</text><text transform="translate(997,1512) rotate(-90)">2</text><text transform="translate(997,1538) rotate(-90)">1</text>
</g>
<text class="l" font-size="11" transform="translate(960,1395) rotate(-90)">IC1</text>
<text class="l" font-size="11" transform="translate(974,1400) rotate(-90)">TDA 5330T</text>
<g class="l">
<text x="302" y="1068">R16</text><text x="302" y="1093">82K</text><text x="389" y="1068">R6</text><text x="386" y="1093">10K</text><text x="590" y="1067">C6</text><text x="588" y="1095">470p</text>
<text x="467" y="1113">R5</text><text x="463" y="1138">10K</text><text x="548" y="1153">T1</text>
<text x="236" y="1153">C28</text><text x="234" y="1166">470p</text>
<text x="332" y="1150">L2</text><text x="332" y="1216">L1</text><text x="308" y="1198">D1</text><text x="336" y="1198" font-size="13">✱</text>
<text x="270" y="1238">R1</text><text x="266" y="1251">5.6K</text><text x="230" y="1238">C1</text><text x="232" y="1251">5p</text>
<text x="377" y="1131">C2</text><text x="374" y="1145">100p</text><text x="356" y="1167">C27</text><text x="355" y="1183">0.5p</text><text x="406" y="1181">L13</text><text x="375" y="1214">R2</text><text x="372" y="1227">47K</text>
<text x="443" y="1166">D2</text><text x="444" y="1188">C4</text><text x="439" y="1212">100p</text><text x="434" y="1226">C3</text><text x="436" y="1239">5p</text>
<text x="478" y="1213">R4</text><text x="478" y="1226">18K</text><text x="508" y="1213">R3</text><text x="508" y="1226">33K</text><text x="509" y="1180">L10</text>
<text x="540" y="1184">C7</text><text x="536" y="1198">150p</text><text x="592" y="1180">R7</text><text x="592" y="1193">270</text><text x="629" y="1180">R8</text><text x="629" y="1193">1.8K</text>
<text x="645" y="1161">L3</text><text x="632" y="1238">R26</text><text x="630" y="1251">4.7n</text>
<text x="356" y="1243">C72</text><text x="356" y="1266">470p</text>
<text x="400" y="1285">R57</text><text x="402" y="1309">10K</text><text x="476" y="1285">C55</text><text x="474" y="1309">470p</text>
<text x="450" y="1316">R56</text><text x="450" y="1329">10</text>
<text x="278" y="1333">L58</text><text x="314" y="1334">D51</text><text x="377" y="1355">D52</text><text x="402" y="1318">D53</text>
<text x="251" y="1356">L57</text><text x="276" y="1373">R69</text><text x="276" y="1386">10</text>
<text x="313" y="1361">C52</text><text x="312" y="1374">0.3p</text><text x="424" y="1362">C54</text><text x="424" y="1375">300p</text>
<text x="396" y="1378">R53</text><text x="396" y="1391">47K</text><text x="490" y="1373">T54</text>
<text x="433" y="1398">R52</text><text x="435" y="1420">47K</text>
<text x="233" y="1428">R111</text><text x="233" y="1441">22K</text><text x="273" y="1430">L97</text><text x="312" y="1426">C51</text><text x="310" y="1439">4.7n</text>
<text x="340" y="1437">C64</text><text x="340" y="1450">4.7n</text><text x="396" y="1438">R54</text><text x="396" y="1451">18K</text>
<text x="425" y="1458">R55</text><text x="425" y="1471">33K</text><text x="437" y="1436">C56</text><text x="437" y="1449">4.7n</text>
<text x="490" y="1442">R60</text><text x="490" y="1455">220</text><text x="521" y="1442">R58</text><text x="521" y="1455">1K</text>
<text x="304" y="1462">R68</text><text x="303" y="1475">2.7K</text><text x="313" y="1496">L53</text><text x="291" y="1493">L52</text>
<text x="196" y="1486">C121</text><text x="197" y="1499">470P</text>
<text x="358" y="1515">C122</text><text x="358" y="1528">4.7n</text><text x="401" y="1515">C123</text><text x="401" y="1528">4.7n</text>
<text x="444" y="1510">R72</text><text x="444" y="1523">10K</text>
<text x="307" y="1540">R51</text><text x="313" y="1553">1K</text>
<text x="474" y="1537">R73</text><text x="474" y="1550">2.2K</text><text x="580" y="1540">L71</text><text x="580" y="1433">L33</text>
<text x="458" y="1580">D71</text><text x="389" y="1577">R71</text><text x="389" y="1602">10K</text><text x="456" y="1605">D101</text><text x="504" y="1580">R103</text><text x="506" y="1604">220</text>
<text x="624" y="1511">D72</text><text x="612" y="1550">D73</text><text x="638" y="1467">C77</text><text x="638" y="1490">1.5p</text>
<text x="624" y="1644">C124</text><text x="624" y="1657">4.7n</text>
<text x="586" y="1303">C57</text><text x="586" y="1316">1.5p</text><text x="625" y="1320">D54</text><text x="681" y="1316">L54</text>
<text x="686" y="1282">C60</text><text x="706" y="1284" font-size="13">✱</text><text x="733" y="1318">D55</text>
<text x="755" y="1340">C71</text><text x="755" y="1353">1p</text><text x="796" y="1353">L55</text>
<text x="609" y="1358">R62</text><text x="609" y="1371">47K</text><text x="578" y="1382">R59</text><text x="578" y="1395">27</text>
<text x="654" y="1382">C58</text><text x="654" y="1395">4.7n</text><text x="692" y="1362">R61</text><text x="692" y="1375">47K</text>
<text x="725" y="1356">C39</text><text x="725" y="1369">4.7n</text>
<text x="725" y="1398">C22</text><text x="722" y="1423">470p</text>
<text x="677" y="1443">C80</text><text x="780" y="1436">D75</text><text x="832" y="1443">C82</text><text x="830" y="1468">47p</text>
<text x="731" y="1478">L75</text><text x="751" y="1503">R87</text><text x="751" y="1516">6.8K</text><text x="790" y="1482">D74</text>
<text x="708" y="1496">L74</text><text x="679" y="1515">R88</text><text x="679" y="1528">3.9K</text><text x="680" y="1553">C78</text><text x="680" y="1566">10n</text>
<text x="827" y="1529">R83</text><text x="827" y="1554">47K</text><text x="854" y="1498">R84</text><text x="854" y="1521">47K</text>
<text x="774" y="1551">R104</text><text x="774" y="1575">8.2K</text><text x="713" y="1607">D102</text><text x="713" y="1657">D103</text>
<text x="774" y="1628">C125</text><text x="774" y="1641">4.7n</text><text x="818" y="1630">R101</text><text x="818" y="1643">2.2K</text><text x="855" y="1630">R102</text><text x="855" y="1643">2.2K</text>
<text x="918" y="1625">C128</text><text x="918" y="1638">470p</text><text x="985" y="1608">C126</text><text x="985" y="1621">470p</text>
<text x="728" y="1068">C15</text>
<text x="674" y="1112">C8</text><text x="662" y="1137">0.68p</text><text x="710" y="1145">L4</text><text x="752" y="1156">L5</text><text x="796" y="1156">L6</text>
<text x="806" y="1128">D4</text><text x="851" y="1131">L7</text><text x="840" y="1180">C11</text><text x="838" y="1193">150p</text>
<text x="679" y="1176">C9</text><text x="674" y="1188">150p</text><text x="720" y="1182">D3</text><text x="720" y="1209">C10</text><text x="722" y="1221">7p</text>
<text x="772" y="1187">R11</text><text x="772" y="1211">47K</text><text x="835" y="1214">C12</text><text x="835" y="1227">7p</text>
<text x="767" y="1243">R12</text><text x="767" y="1267">47K</text>
<text x="842" y="1057">C101</text><text x="844" y="1083">15p</text><text x="936" y="1057">C102</text><text x="936" y="1083">4.7n</text>
<text x="928" y="1121">C104</text><text x="928" y="1133">4.7n</text><text x="962" y="1112">C103</text><text x="966" y="1124">10n</text>
<text x="1057" y="1118">C105</text><text x="1057" y="1130">4.7n</text><text x="1004" y="1110">L102</text><text x="1109" y="1110">L101</text>
<text x="832" y="1262">L8</text><text x="842" y="1263">C13</text><text x="842" y="1276">2.5p</text><text x="832" y="1300">C14</text><text x="832" y="1312">2.5p</text><text x="842" y="1326">C29</text><text x="842" y="1339">2p</text>
<text x="854" y="1362">L56</text><text x="890" y="1362">C61</text><text x="888" y="1389">4.7n</text><text x="850" y="1392">C61</text><text x="852" y="1416">4.7n</text>
<text x="888" y="1418">C84</text><text x="888" y="1442">4.7n</text>
<text x="1015" y="1262">C21</text><text x="1020" y="1286">1p</text><text x="1040" y="1292">C16</text><text x="1040" y="1306">1.5p</text>
<text x="1020" y="1318">C17</text><text x="1020" y="1333">1.5p</text><text x="1040" y="1346">C18</text><text x="1040" y="1360">1.5p</text>
<text x="1067" y="1316">L13</text><text x="1096" y="1244">R14</text><text x="1096" y="1257">27K</text><text x="1101" y="1294">L16</text>
<text x="1098" y="1328">R17</text><text x="1096" y="1341">2.2K</text><text x="1160" y="1320">C20</text><text x="1160" y="1333">100p</text>
<text x="1127" y="1360">C19</text><text x="1127" y="1373">6p</text><text x="1161" y="1291">D5</text><text x="1160" y="1356">R15</text><text x="1160" y="1369">27K</text>
<text x="1020" y="1372">C45</text><text x="1020" y="1386">1.5p</text><text x="1038" y="1398">C66</text><text x="1038" y="1412">3p</text>
<text x="1020" y="1423">C67</text><text x="1020" y="1437">3p</text><text x="1038" y="1450">C68</text><text x="1038" y="1464">1.5p</text>
<text x="1064" y="1423">L65</text><text x="1087" y="1391">C49</text><text x="1087" y="1403">150p</text><text x="1123" y="1441">D65</text>
<text x="1150" y="1403">R64</text><text x="1150" y="1428">27K</text><text x="1133" y="1445">R67</text><text x="1135" y="1469">27K</text>
<text x="1011" y="1472">R85</text><text x="1016" y="1496">15</text><text x="1030" y="1518">C86</text><text x="1030" y="1530">5p</text>
<text x="1018" y="1551">C85</text><text x="1028" y="1578">2p</text><text x="1092" y="1577">L85</text><text x="1088" y="1547">D85</text>
<text x="1083" y="1510">C87</text><text x="1083" y="1523">47p</text><text x="1120" y="1510">C90</text><text x="1120" y="1523">15p</text>
<text x="1155" y="1484">R86</text><text x="1157" y="1508">47K</text><text x="1140" y="1545">C88</text><text x="1140" y="1558">470p</text>
<text x="1080" y="1591">L103</text><text x="1183" y="1608">L104</text>
<text x="1010" y="1632">C110</text><text x="1010" y="1650">4.7n</text><text x="1044" y="1632">C112</text><text x="1046" y="1650">3.5p</text>
<text x="1086" y="1632">C111</text><text x="1086" y="1650">4.7n</text><text x="1127" y="1632">C113</text><text x="1127" y="1650">3.5p</text>
<text x="1172" y="1690" font-size="13">TUNER</text>
</g>
<g class="l" text-anchor="end">
<text x="226" y="1527">AGC</text><text x="226" y="1539">12V</text><text x="226" y="1552">UHF I</text><text x="226" y="1564">VHF III</text><text x="226" y="1589">UHF</text><text x="226" y="1601">TUN</text><text x="226" y="1676">IF</text><text x="226" y="1688">IF</text>
</g>
</svg>
</body></html>
